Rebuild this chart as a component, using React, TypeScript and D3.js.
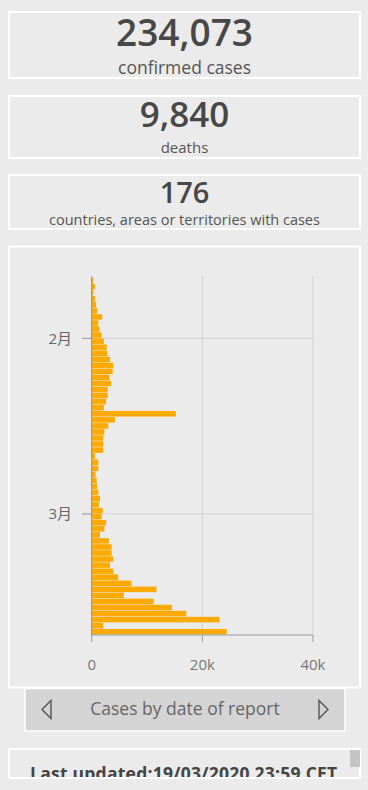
import React from 'react';
import * as d3 from 'd3';

// summary figures
const totals = [
  { value: '234,073', label: 'confirmed cases' },
  { value: '9,840', label: 'deaths' },
  { value: '176', label: 'countries, areas or territories with cases' },
];

// daily new cases by date of report, starting 22 Jan 2020
const firstDay = new Date(2020, 0, 22);
const dailyCases = [
  300, 600, 300, 600, 800, 1000, 1900, 1200, 1400, 1800,
  2200, 2700, 2800, 3300, 3900, 3800, 3200, 3500, 2900, 2900,
  2600, 2200, 15200, 4200, 3000, 2300, 2100, 2100, 2100, 600,
  1200, 1200, 700, 900, 1000, 1200, 1500, 1300, 2000,
  1800, 2600, 2300, 1500, 3100, 3600, 3600, 3900, 3300, 3900,
  4800, 7200, 11700, 5800, 11200, 14500, 17100, 23100, 2100, 24400,
];
const xTicks = [0, 20000, 40000];
const yTicks = [new Date(2020, 1, 1), new Date(2020, 2, 1)];
const yTickLabels = ['2月', '3月'];

const FONT = "'Open Sans', 'Noto Sans CJK SC', 'Noto Sans', sans-serif";

export default function App() {
  const bars = dailyCases.map((v, i) => ({ date: d3.timeDay.offset(firstDay, i), v }));

  const x = d3.scaleLinear().domain([0, 40000]).range([91.7, 313]);
  const y = d3
    .scaleTime()
    .domain([new Date(2020, 0, 21, 16, 48), new Date(2020, 2, 21)])
    .range([276, 635]);
  const fmt = (v: number) => (v === 0 ? '0' : d3.format('~s')(v));

  // layout of the three summary boxes
  const boxes = [
    { y: 12, h: 66, vy: 45.5, vs: 37, ly: 74, ls: 17.5 },
    { y: 96, h: 62, vy: 126.5, vs: 35, ly: 153, ls: 15 },
    { y: 175, h: 54, vy: 202.5, vs: 29, ly: 224.5, ls: 14.5 },
  ];

  return (
    <svg
      width={368}
      height={790}
      style={{ position: 'absolute', left: 0, top: 0, fontFamily: FONT }}
    >
      <defs>
        <clipPath id="lastClip">
          <rect x={9} y={749} width={351} height={28} />
        </clipPath>
      </defs>
      <rect width={368} height={790} fill="#ebebeb" />

      {totals.map((t, i) => {
        const b = boxes[i];
        return (
          <g key={t.label}>
            <rect x={9} y={b.y} width={351} height={b.h} fill="none" stroke="#fff" strokeWidth={2} />
            <text x={184.5} y={b.vy} textAnchor="middle" fontSize={b.vs} fontWeight={600} fill="#474747">
              {t.value}
            </text>
            <text x={184.5} y={b.ly} textAnchor="middle" fontSize={b.ls} fill="#555">
              {t.label}
            </text>
          </g>
        );
      })}

      {/* chart panel */}
      <rect x={9} y={246.5} width={351} height={441} fill="none" stroke="#fff" strokeWidth={2} />

      {xTicks.slice(1).map((t) => (
        <line key={t} x1={x(t)} x2={x(t)} y1={276} y2={635} stroke="#d2d2d2" />
      ))}
      {yTicks.map((t, i) => (
        <g key={i}>
          <line x1={82} x2={313} y1={y(t)} y2={y(t)} stroke="#d2d2d2" />
          <line x1={82} x2={91.7} y1={y(t)} y2={y(t)} stroke="#999" />
          <text x={72} y={y(t)} dy="0.35em" textAnchor="end" fontSize={15} fill="#666">
            {yTickLabels[i]}
          </text>
        </g>
      ))}

      {bars.map((b) => {
        const y0 = Math.max(y(b.date), 276);
        const y1 = y(d3.timeDay.offset(b.date, 1));
        return (
          <rect
            key={+b.date}
            x={x(0)}
            y={y0}
            width={x(b.v) - x(0)}
            height={Math.max(y1 - y0 - 0.5, 0.5)}
            fill="#ffaa00"
          />
        );
      })}

      <line x1={x(0)} x2={x(0)} y1={276} y2={635} stroke="#8f8f8f" />
      <line x1={x(0)} x2={313} y1={635} y2={635} stroke="#999" />
      {xTicks.map((t) => (
        <g key={t}>
          <line x1={x(t)} x2={x(t)} y1={635} y2={642} stroke="#999" />
          <text x={x(t)} y={670} textAnchor="middle" fontSize={15} fill="#777">
            {fmt(t)}
          </text>
        </g>
      ))}

      {/* chart switcher */}
      <rect x={25} y={688.5} width={320} height={42.5} fill="#d4d4d4" stroke="#fff" strokeWidth={1.5} />
      <path d="M42,709.5L51,700.5L51,718.5Z" fill="none" stroke="#555" strokeWidth={1.4} />
      <path d="M328,709.5L319,700.5L319,718.5Z" fill="none" stroke="#555" strokeWidth={1.4} />
      <text x={185} y={714.5} textAnchor="middle" fontSize={17.5} fill="#666">
        Cases by date of report
      </text>

      {/* last updated */}
      <rect x={9} y={749} width={351} height={29} fill="none" stroke="#fff" strokeWidth={2} />
      <rect x={350} y={750} width={10} height={17} fill="#c4c4c4" />
      <g clipPath="url(#lastClip)">
        <text x={30} y={780} fontSize={17.5} fontWeight={700} letterSpacing={0.25} fill="#444">
          Last updated:19/03/2020 23:59 CET
        </text>
      </g>
    </svg>
  );
}
